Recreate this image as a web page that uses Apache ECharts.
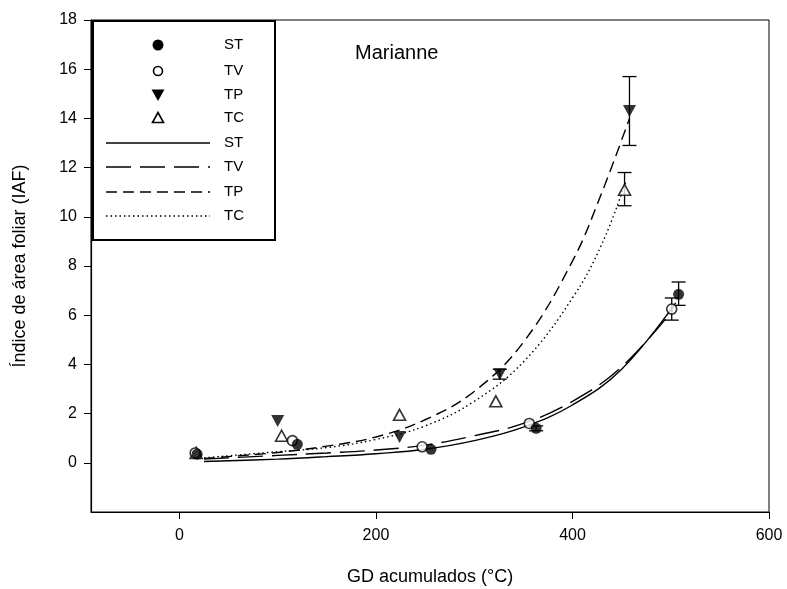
<!DOCTYPE html>
<html><head><meta charset="utf-8">
<script src="https://cdn.jsdelivr.net/npm/echarts@6/dist/echarts.min.js"></script>
<style>html,body{margin:0;padding:0;background:#fff}#c{width:787px;height:589px}</style>
</head><body><div id="c"></div>
<script>
// observed points
const stX = [18, 120, 256, 363, 508];
const stY = [0.35, 0.75, 0.55, 1.4, 6.85];
const tvX = [16, 115, 247, 356, 501];
const tvY = [0.4, 0.9, 0.65, 1.6, 6.25];
const tpX = [100, 224, 326, 458];
const tpY = [1.7, 1.05, 3.6, 14.3];
const tcX = [17, 104, 224, 322, 453];
const tcY = [0.4, 1.1, 1.95, 2.5, 11.1];
// error bars [x, low, high]
const stErr = [[363, 1.3, 1.5], [508, 6.4, 7.35]];
const tvErr = [[501, 5.8, 6.7]];
const tpErr = [[326, 3.4, 3.8], [458, 12.9, 15.7]];
const tcErr = [[453, 10.45, 11.8]];
// fitted curves
const stFitX = [25, 100, 150, 200, 250, 300, 350, 400, 450, 505];
const stFitY = [0.05, 0.15, 0.25, 0.37, 0.55, 0.9, 1.45, 2.35, 3.8, 6.5];
const tvFitX = [25, 100, 150, 200, 250, 300, 350, 400, 450, 502];
const tvFitY = [0.15, 0.3, 0.4, 0.52, 0.72, 1.1, 1.6, 2.5, 3.9, 6.2];
const tpFitX = [25, 100, 150, 200, 250, 300, 350, 400, 430, 458];
const tpFitY = [0.18, 0.42, 0.68, 1.05, 1.75, 2.9, 4.9, 8.2, 11.0, 14.0];
const tcFitX = [25, 100, 150, 200, 250, 300, 350, 400, 430, 454];
const tcFitY = [0.2, 0.45, 0.62, 0.95, 1.5, 2.5, 4.1, 6.7, 8.9, 11.4];
const xTicks = [0, 200, 400, 600];
const yTicks = [0, 2, 4, 6, 8, 10, 12, 14, 16, 18];

const zip = (a, b) => a.map((v, i) => [v, b[i]]);
const font = 'Liberation Sans, Arial, sans-serif';

function errSeries(data) {
  return {
    type: 'custom', data: data, z: 3,
    renderItem: function (params, api) {
      const x = api.value(0);
      const lo = api.coord([x, api.value(1)]);
      const hi = api.coord([x, api.value(2)]);
      const w = 7;
      const st = { stroke: '#000', lineWidth: 1.3 };
      return { type: 'group', children: [
        { type: 'line', shape: { x1: lo[0], y1: lo[1], x2: hi[0], y2: hi[1] }, style: st },
        { type: 'line', shape: { x1: lo[0] - w, y1: lo[1], x2: lo[0] + w, y2: lo[1] }, style: st },
        { type: 'line', shape: { x1: hi[0] - w, y1: hi[1], x2: hi[0] + w, y2: hi[1] }, style: st }
      ]};
    }
  };
}
function fitSeries(xs, ys, dash) {
  return { type: 'line', data: zip(xs, ys), smooth: 0.4, showSymbol: false, z: 2,
    lineStyle: { color: '#000', width: 1.4, type: dash } };
}

const chart = echarts.init(document.getElementById('c'), null, { renderer: 'canvas' });

// legend drawn as graphic
const lgX0 = 106, lgX1 = 210, symX = 158, txtX = 224;
const rows = [45, 71, 95, 118, 143, 167, 192, 216];
const names = ['ST', 'TV', 'TP', 'TC', 'ST', 'TV', 'TP', 'TC'];
const g = [{ type: 'rect', shape: { x: 93, y: 21, width: 182, height: 219 },
  style: { fill: '#fff', stroke: '#000', lineWidth: 2 }, z: 100 }];
names.forEach((n, i) => g.push({ type: 'text', x: txtX, y: rows[i], z: 101,
  style: { text: n, font: '15px ' + font, fill: '#000', textVerticalAlign: 'middle' } }));
g.push({ type: 'circle', shape: { cx: symX, cy: rows[0], r: 5.5 }, style: { fill: '#000' }, z: 101 });
g.push({ type: 'circle', shape: { cx: symX, cy: rows[1], r: 4.5 }, style: { fill: '#fff', stroke: '#000', lineWidth: 1.6 }, z: 101 });
g.push({ type: 'polygon', shape: { points: [[symX - 6.5, rows[2] - 5.5], [symX + 6.5, rows[2] - 5.5], [symX, rows[2] + 6]] }, style: { fill: '#000' }, z: 101 });
g.push({ type: 'polygon', shape: { points: [[symX - 5.5, rows[3] + 4.5], [symX + 5.5, rows[3] + 4.5], [symX, rows[3] - 5.5]] }, style: { fill: '#fff', stroke: '#000', lineWidth: 1.6 }, z: 101 });
const dashes = [null, [25, 9], [11, 6], [1.5, 3]];
dashes.forEach((d, i) => g.push({ type: 'line', z: 101,
  shape: { x1: lgX0, y1: rows[4 + i], x2: lgX1, y2: rows[4 + i] },
  style: { stroke: '#000', lineWidth: 1.4, lineDash: d } }));
g.push({ type: 'text', x: 355, y: 53, z: 101,
  style: { text: 'Marianne', font: '20px ' + font, fill: '#000', textVerticalAlign: 'middle' } });

chart.setOption({
  animation: false,
  backgroundColor: '#fff',
  grid: { left: 91, right: 18, top: 20, bottom: 77, show: true, borderColor: '#000', borderWidth: 1,
    outerBoundsMode: 'none', containLabel: false },
  xAxis: {
    type: 'value', min: -90, max: 600, interval: 10,
    name: 'GD acumulados (°C)', nameLocation: 'middle', nameGap: 56,
    nameTextStyle: { fontFamily: font, fontSize: 18, color: '#000' },
    axisLine: { onZero: false, lineStyle: { color: '#000', width: 1.2 } },
    axisTick: { show: true, length: 7, inside: false, lineStyle: { color: '#000' },
      customValues: xTicks },
    axisLabel: { customValues: xTicks, fontFamily: font, fontSize: 16, color: '#000', margin: 16 },
    splitLine: { show: false }
  },
  yAxis: {
    type: 'value', min: -2, max: 18, interval: 2,
    name: 'Índice de área foliar (IAF)', nameLocation: 'middle', nameGap: 62,
    nameTextStyle: { fontFamily: font, fontSize: 18, color: '#000' },
    axisLine: { onZero: false, lineStyle: { color: '#000', width: 1.2 } },
    axisTick: { show: true, length: 7, lineStyle: { color: '#000' }, customValues: yTicks },
    axisLabel: { customValues: yTicks, fontFamily: font, fontSize: 16, color: '#000', margin: 14 },
    splitLine: { show: false }
  },
  graphic: g,
  series: [
    fitSeries(stFitX, stFitY, 'solid'),
    fitSeries(tvFitX, tvFitY, [25, 9]),
    fitSeries(tpFitX, tpFitY, [11, 6]),
    fitSeries(tcFitX, tcFitY, [1.5, 3]),
    errSeries(stErr), errSeries(tvErr), errSeries(tpErr), errSeries(tcErr),
    { type: 'scatter', data: zip(tcX, tcY), symbol: 'triangle', symbolSize: [12, 11], z: 4,
      itemStyle: { color: '#fff', borderColor: '#000', borderWidth: 1.6 } },
    { type: 'scatter', data: zip(tpX, tpY), symbol: 'triangle', symbolRotate: 180, symbolSize: [13, 12], z: 4,
      itemStyle: { color: '#000' } },
    { type: 'scatter', data: zip(tvX, tvY), symbol: 'circle', symbolSize: 10, z: 5,
      itemStyle: { color: '#fff', borderColor: '#000', borderWidth: 1.6 } },
    { type: 'scatter', data: zip(stX, stY), symbol: 'circle', symbolSize: 11, z: 5,
      itemStyle: { color: '#000' } }
  ]
});
</script></body></html>
